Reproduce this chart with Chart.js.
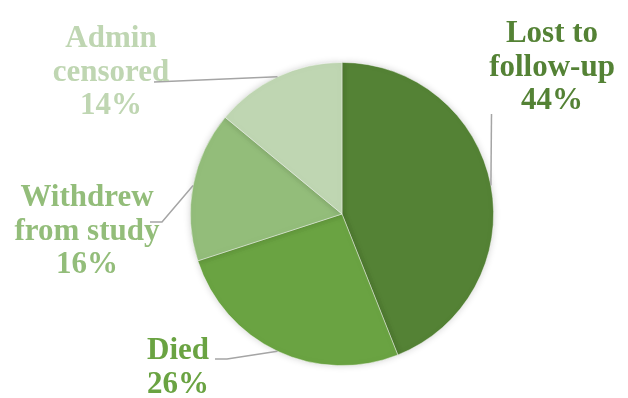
<!DOCTYPE html>
<html>
<head>
<meta charset="utf-8">
<script src="https://cdn.jsdelivr.net/npm/chart.js@4/dist/chart.umd.min.js"></script>
<style>
  html, body { margin: 0; padding: 0; background: #ffffff; }
  #wrap { width: 628px; height: 398px; position: relative; }
</style>
</head>
<body>
<div id="wrap"><canvas id="chart" width="628" height="398"></canvas></div>
<script>
// Reasons for leaving the study, share of participants (%)
const categories = ['Lost to follow-up', 'Died', 'Withdrew from study', 'Admin censored'];
const labelLines = [['Lost to', 'follow-up'], ['Died'], ['Withdrew', 'from study'], ['Admin', 'censored']];
const shares = [44, 26, 16, 14];

const sliceColors = ['#548235', '#6aa342', '#93bd7a', '#bfd6b2'];

// Where each callout sits: text centre x, first baseline y, and the elbow of its leader line
const callouts = [
  { x: 552, y: 42,  leader: [[491.5, 114]] },
  { x: 178, y: 359, leader: [[227, 359], [215, 359]] },
  { x: 87,  y: 206, leader: [[162, 222], [150, 222]] },
  { x: 111, y: 47,  leader: [[154, 82]] }
];

const calloutPlugin = {
  id: 'callouts',
  afterDatasetsDraw(chart) {
    const ctx = chart.ctx;
    const meta = chart.getDatasetMeta(0);
    ctx.save();
    // leader lines from the middle of each slice's rim
    meta.data.forEach((arc, i) => {
      const p = arc.getProps(['x', 'y', 'startAngle', 'endAngle', 'outerRadius'], true);
      const mid = (p.startAngle + p.endAngle) / 2;
      const sx = p.x + Math.cos(mid) * p.outerRadius;
      const sy = p.y + Math.sin(mid) * p.outerRadius;
      ctx.beginPath();
      ctx.moveTo(sx, sy);
      callouts[i].leader.forEach(pt => ctx.lineTo(pt[0], pt[1]));
      ctx.strokeStyle = '#a5a5a5';
      ctx.lineWidth = 1.5;
      ctx.stroke();
    });
    // label text with the percentage underneath
    ctx.font = 'bold 31px "Liberation Serif", "Times New Roman", serif';
    ctx.textAlign = 'center';
    ctx.textBaseline = 'alphabetic';
    const total = shares.reduce((a, b) => a + b, 0);
    shares.forEach((v, i) => {
      const lines = labelLines[i].concat([Math.round(v / total * 100) + '%']);
      ctx.fillStyle = sliceColors[i];
      lines.forEach((t, k) => ctx.fillText(t, callouts[i].x, callouts[i].y + k * 33.5));
    });
    ctx.restore();
  }
};

const shadowPlugin = {
  id: 'softShadow',
  beforeDatasetsDraw(chart) {
    const ctx = chart.ctx;
    ctx.save();
    ctx.shadowColor = 'rgba(0,0,0,0.18)';
    ctx.shadowBlur = 7;
  },
  afterDatasetsDraw(chart) {
    chart.ctx.restore();
  }
};

new Chart(document.getElementById('chart'), {
  type: 'pie',
  data: {
    labels: categories,
    datasets: [{
      data: shares,
      backgroundColor: sliceColors,
      borderColor: 'rgba(255,255,255,0.55)',
      borderWidth: 0.8
    }]
  },
  options: {
    responsive: false,
    animation: false,
    events: [],
    layout: { padding: { left: 190, right: 134, top: 61, bottom: 31 } },
    plugins: {
      legend: { display: false },
      tooltip: { enabled: false }
    }
  },
  plugins: [shadowPlugin, calloutPlugin]
});
</script>
</body>
</html>
